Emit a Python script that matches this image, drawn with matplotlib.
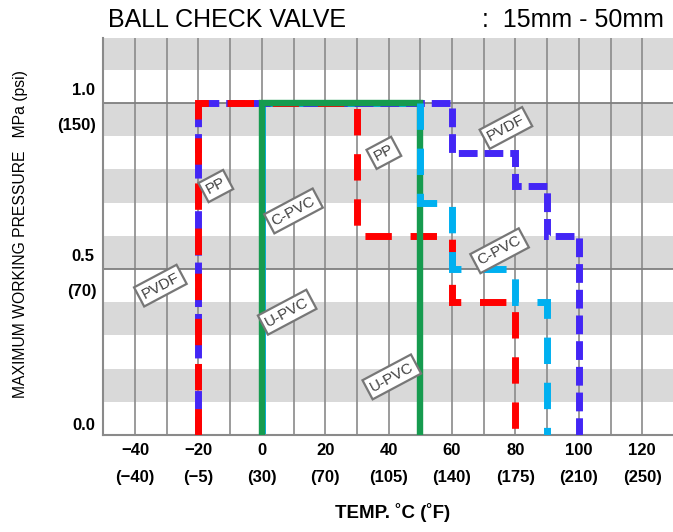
import matplotlib
matplotlib.use("Agg")
import matplotlib.pyplot as plt

plt.rcParams['font.family'] = ['Liberation Sans', 'DejaVu Sans']
plt.rcParams['lines.scale_dashes'] = False

# ---- data ----
pp_t = [-20, -20, 30, 30, 60, 60, 80, 80]
pp_p = [0.0, 1.0, 1.0, 0.6, 0.6, 0.4, 0.4, 0.0]

pvdf_t = [-20, -20, 60, 60, 80, 80, 90, 90, 100, 100]
pvdf_p = [0.0, 1.0, 1.0, 0.85, 0.85, 0.75, 0.75, 0.6, 0.6, 0.0]

upvc_t = [0, 0, 50, 50]
upvc_p = [0.0, 1.0, 1.0, 0.0]

cpvc_t = [0, 0, 50, 50, 60, 60, 80, 80, 90, 90]
cpvc_p = [0.0, 1.0, 1.0, 0.7, 0.7, 0.5, 0.5, 0.4, 0.4, 0.0]

xticks_c = [-40, -20, 0, 20, 40, 60, 80, 100, 120]
xticks_f = ["(\u221240)", "(\u22125)", "(30)", "(70)", "(105)", "(140)", "(175)", "(210)", "(250)"]
yticks_mpa = [0.0, 0.5, 1.0]
yticks_mpa_lbl = ["0.0", "0.5", "1.0"]
yticks_psi = [0.5, 1.0]
yticks_psi_lbl = ["(70)", "(150)"]

labels = ["PP", "PVDF", "C-PVC", "U-PVC", "PP", "U-PVC", "PVDF", "C-PVC"]
label_t = [-14.5, -32, 10, 8, 38.5, 41, 77, 75]
label_p = [0.75, 0.45, 0.675, 0.37, 0.85, 0.175, 0.925, 0.555]

# ---- figure ----
fig = plt.figure(figsize=(6.73, 5.32), dpi=100)
W, H = 673, 532
ax = fig.add_axes([103.3 / W, (H - 435) / H, (673 - 103.3) / W, (435 - 38) / H])
ax.set_xlim(-50, 129.7)
ax.set_ylim(0, 1.196)

# background bands
for lo in [0.1, 0.3, 0.5, 0.7, 0.9, 1.1]:
    ax.axhspan(lo, lo + 0.1, color='#d9d9d9', lw=0, zorder=0)
# vertical grid
for t in range(-40, 130, 10):
    ax.axvline(t, color='#8a8a8a', lw=1.2, zorder=1)
for p in [0.5, 1.0]:
    ax.axhline(p, color='#7f7f7f', lw=1.3, zorder=1)

for s in ['top', 'right']:
    ax.spines[s].set_visible(False)
for s in ['left', 'bottom']:
    ax.spines[s].set_color('#8a8a8a')
    ax.spines[s].set_linewidth(1.5)
ax.set_xticks([])
ax.set_yticks([])

red = '#ff0000'
blue = '#4326f5'
cyan = '#00b0f0'
green = '#169b4f'
lw = 5.0
common = dict(solid_capstyle='butt', dash_capstyle='butt', dash_joinstyle='miter', solid_joinstyle='miter')

# C-PVC hidden part (under green)
ax.plot(cpvc_t[:3], cpvc_p[:3], color=cyan, lw=lw, zorder=2, **common)
# PVDF
ax.plot(pvdf_t, pvdf_p, color=blue, lw=lw, dashes=(13.5, 5), zorder=3, **common)
# PP
ax.plot(pp_t, pp_p, color=red, lw=lw, dashes=(19, 13.5), zorder=4, **common)
# U-PVC
ax.plot(upvc_t, upvc_p, color=green, lw=4.6, zorder=5, **common)
# C-PVC visible part
ax.plot(cpvc_t[2:], cpvc_p[2:], color=cyan, lw=lw, dashes=(19, 13.5), zorder=6, **common)

for txt, t, p in zip(labels, label_t, label_p):
    ax.text(t, p, txt, rotation=28, ha='center', va='center', fontsize=11,
            color='#404040', zorder=10, rotation_mode='anchor',
            bbox=dict(boxstyle='square,pad=0.25', fc='white', ec='#777777', lw=1.6))

# tick labels
tick_kw = dict(fontsize=12, fontweight='bold', color='black', clip_on=False)
tx = ax.get_xaxis_transform()
for t, f in zip(xticks_c, xticks_f):
    ax.text(t, -0.040, str(t).replace('-', '\u2212'), transform=tx, ha='center', va='center', **tick_kw)
    ax.text(t, -0.108, f, transform=tx, ha='center', va='center', **tick_kw)
ty = ax.get_yaxis_transform()
for p, l in zip(yticks_mpa, yticks_mpa_lbl):
    ax.text(-0.015, p + (0.03 if p == 0 else 0.039), l, transform=ty, ha='right', va='center', **tick_kw)
for p, l in zip(yticks_psi, yticks_psi_lbl):
    ax.text(-0.012, p - 0.069, l, transform=ty, ha='right', va='center', **tick_kw)

ax.text(-0.146, 0.506, "MAXIMUM WORKING PRESSURE   MPa (psi)", transform=ax.transAxes,
        rotation=90, ha='center', va='center', fontsize=11.3, color='black', clip_on=False)
ax.text(0.507, -0.195, "TEMP. \u02daC (\u02daF)", transform=ax.transAxes,
        ha='center', va='center', fontsize=13.5, fontweight='bold', color='black', clip_on=False)

fig.text(108 / W, 1 - 20 / H, "BALL CHECK VALVE", ha='left', va='center', fontsize=18, color='black')
fig.text(664 / W, 1 - 20 / H, ":  15mm - 50mm", ha='right', va='center', fontsize=18, color='black')

fig.savefig('out.png', dpi=100)
